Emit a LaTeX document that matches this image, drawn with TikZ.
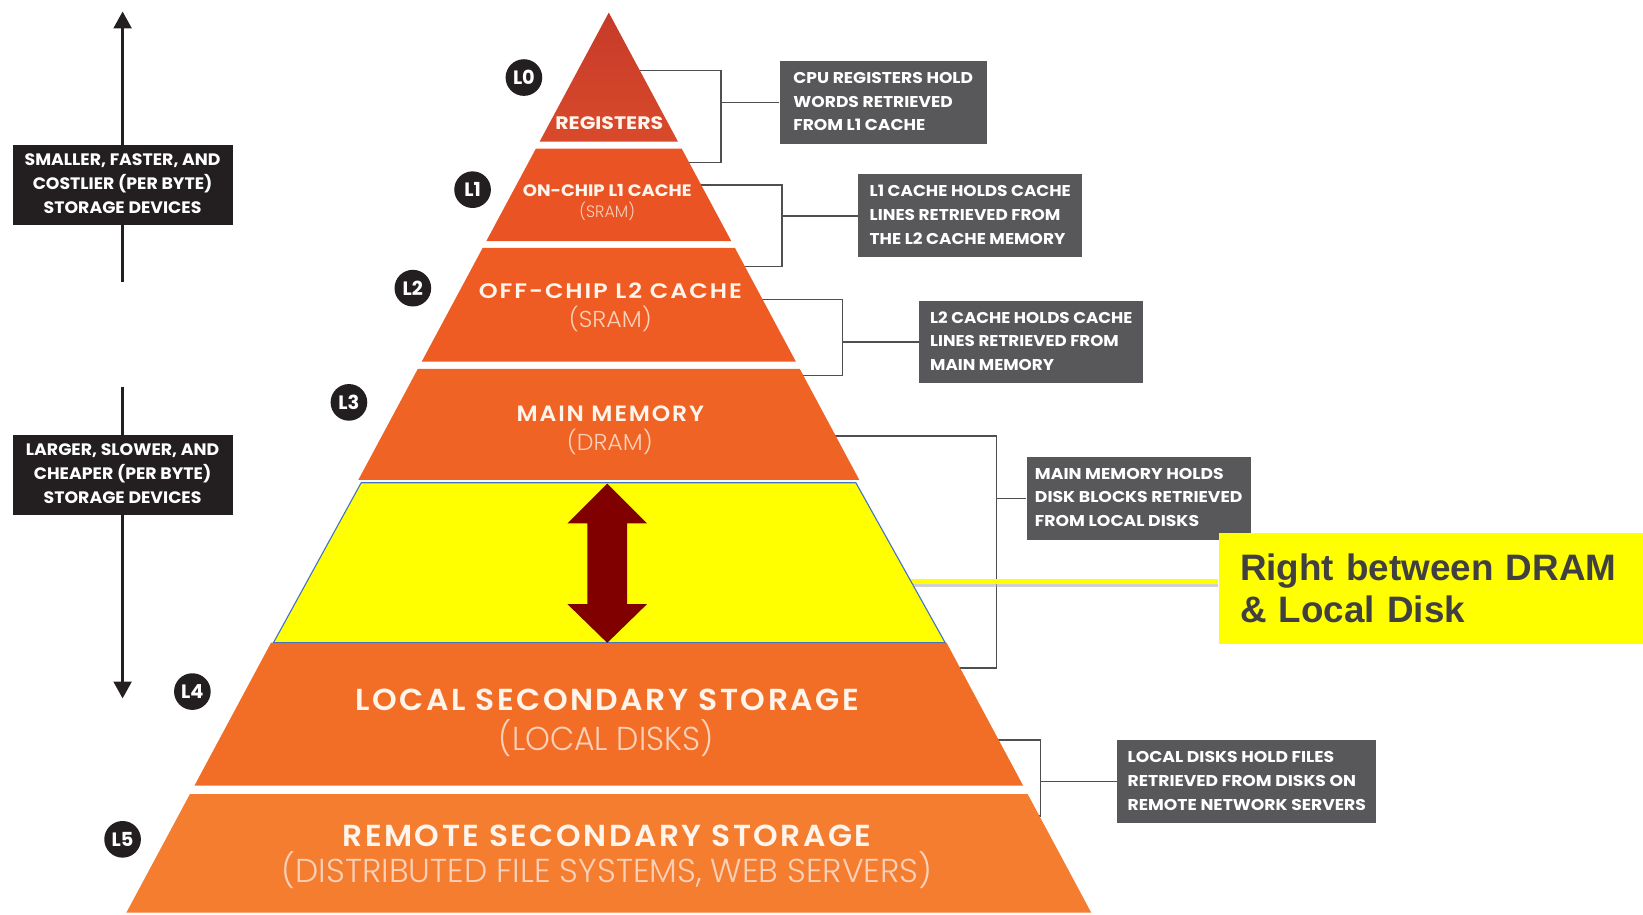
\documentclass[tikz,border=0pt]{standalone}
\usepackage{fontspec}
\usepackage{graphicx}
\setmainfont{Poppins}
\newfontfamily\plight{Poppins Light}
\newfontfamily\psemi{Poppins SemiBold}
\newfontfamily\arialf{Liberation Sans}
\usetikzlibrary{arrows.meta}

\definecolor{regtop}{HTML}{C63A29}
\definecolor{regbot}{HTML}{D94A2B}
\definecolor{lone}{HTML}{EA5424}
\definecolor{ltwo}{HTML}{EE5B23}
\definecolor{lthree}{HTML}{EF6325}
\definecolor{lfour}{HTML}{F26E27}
\definecolor{lfive}{HTML}{F47D30}
\definecolor{titlecol}{HTML}{FFF5EC}
\definecolor{subcol}{HTML}{FAD0B8}
\definecolor{notegray}{HTML}{58585A}
\definecolor{inkblack}{HTML}{231F20}
\definecolor{hiyellow}{HTML}{FFFF00}
\definecolor{hiblue}{HTML}{4472C4}
\definecolor{darkred}{HTML}{800000}
\definecolor{calltext}{HTML}{404040}
\definecolor{bracketcol}{HTML}{4F4F4F}

% stretch a label horizontally to a given width, keeping its height
\newcommand\fitw[2]{\resizebox{#1}{\height}{#2}}
% tracked capitals for the wide band titles
\newcommand\tracked[1]{{\addfontfeatures{LetterSpace=8}#1}}
% one band of the pyramid between two heights
\newcommand\tier[3]{%
  \pgfmathsetmacro\hwa{0.536*(#1-12)}%
  \pgfmathsetmacro\hwb{0.536*(#2-12)}%
  \path[#3] (581-\hwa,#1) -- (581+\hwa,#1) -- (581+\hwb,#2) -- (581-\hwb,#2) -- cycle;}

\begin{document}
\begin{tikzpicture}[x=0.02cm,y=-0.02cm,
  bracket/.style={draw=bracketcol,line width=0.7pt},
  notebox/.style={fill=notegray,text=white,inner sep=0pt,
    font=\bfseries\fontsize{8.5}{12.9}\selectfont},
  sidebox/.style={fill=inkblack,text=white,inner sep=0pt,
    font=\bfseries\fontsize{9}{12.9}\selectfont},
  lvl/.style={circle,fill=inkblack,text=white,minimum size=0.7cm,inner sep=0pt,
    font=\bfseries\fontsize{10.5}{11}\selectfont},
  tiertitle/.style={anchor=base,inner sep=0pt,text=titlecol},
  tiersub/.style={anchor=base,inner sep=0pt,text=subcol},
  sidearrow/.style={draw=inkblack,line width=1.4pt,-{Triangle[length=0.32cm,width=0.34cm]}},
]
\useasboundingbox (0,0) rectangle (1568,873);
\fill[white] (0,0) rectangle (1568,873);

% ---- note boxes on the right ----
\node[notebox,minimum width=3.95cm,minimum height=1.58cm] (n0) at (842.9,97.8)
  {\fitw{3.43cm}{\begin{tabular}{@{}l@{}}CPU REGISTERS HOLD\\WORDS RETRIEVED\\FROM L1 CACHE\end{tabular}}};
\node[notebox,minimum width=4.28cm,minimum height=1.58cm] (n1) at (926,206)
  {\fitw{3.84cm}{\begin{tabular}{@{}l@{}}L1 CACHE HOLDS CACHE\\LINES RETRIEVED FROM\\THE L2 CACHE MEMORY\end{tabular}}};
\node[notebox,minimum width=4.27cm,minimum height=1.58cm] (n2) at (984.2,326.4)
  {\fitw{3.86cm}{\begin{tabular}{@{}l@{}}L2 CACHE HOLDS CACHE\\LINES RETRIEVED FROM\\MAIN MEMORY\end{tabular}}};
\node[notebox,minimum width=4.27cm,minimum height=1.58cm] (n3) at (1086.7,475.4)
  {\fitw{3.96cm}{\begin{tabular}{@{}l@{}}MAIN MEMORY HOLDS\\DISK BLOCKS RETRIEVED\\FROM LOCAL DISKS\end{tabular}}};
\node[notebox,minimum width=4.94cm,minimum height=1.59cm] (n4) at (1189.9,746)
  {\fitw{4.55cm}{\begin{tabular}{@{}l@{}}LOCAL DISKS HOLD FILES\\RETRIEVED FROM DISKS ON\\REMOTE NETWORK SERVERS\end{tabular}}};

% ---- bracket connectors (ends hidden under the pyramid) ----
\coordinate (b0a) at (600,67.5);  \coordinate (b0v) at (688,155.3);  \coordinate (b0b) at (645,155.3);
\coordinate (b1a) at (655,176.6); \coordinate (b1v) at (746.3,254.5); \coordinate (b1b) at (700,254.5);
\coordinate (b2a) at (715,285.7); \coordinate (b2v) at (804.2,358.5); \coordinate (b2b) at (755,358.5);
\coordinate (b3a) at (785,416);   \coordinate (b3v) at (951,637.6);   \coordinate (b3b) at (905,637.6);
\coordinate (b4a) at (940,706.2); \coordinate (b4v) at (993.2,778.8); \coordinate (b4b) at (980,778.8);
\foreach \k/\n in {0/n0,1/n1,2/n2,3/n3,4/n4}{
  \draw[bracket] (b\k a) -| (b\k v) -- (b\k b);
  \draw[bracket] (\n.west) -- (\n.west -| b\k v);
}

% ---- highlight callout ----
\node[fill=hiyellow,anchor=north west,minimum width=8.11cm,minimum height=2.13cm,
  text width=7.4cm,inner xsep=0.41cm,inner ysep=0pt,align=left,text=calltext,
  font=\arialf\bfseries\fontsize{20}{23}\selectfont] (callout) at (1162.6,508)
  {Right between DRAM\\\& Local Disk};
\coordinate (hl) at (860,555);
\draw[black!30,opacity=0.6,line width=2pt] ([yshift=-2.2pt]hl) -- ([yshift=-2.2pt]hl -| callout.west);
\draw[hiyellow,line width=2.4pt] (hl) -- (hl -| callout.west);

% ---- pyramid bands ----
\tier{12}{135.2}{top color=regtop,bottom color=regbot}
\tier{141.8}{230}{fill=lone}
\tier{236.5}{345.2}{fill=ltwo}
\tier{352}{458}{fill=lthree}
\tier{613.3}{749.8}{fill=lfour}
\tier{757.8}{871}{fill=lfive}

% highlighted band with its double arrow
\path[fill=hiyellow,draw=hiblue,line width=0.6pt]
  (344.7,460.7) -- (816.8,460.7) -- (902,613.3) -- (261,613.3) -- cycle;
\fill[darkred] (579.5,461.5) -- (617.5,499.5) -- (598.5,499.5) -- (598.5,576.5)
  -- (617.5,576.5) -- (579.5,613.5) -- (541.5,576.5) -- (560.5,576.5)
  -- (560.5,499.5) -- (541.5,499.5) -- cycle;

% ---- band labels ----
\node[tiertitle,font=\bfseries\fontsize{9.8}{10}\selectfont] (t0) at (581.5,124) {\fitw{2.06cm}{REGISTERS}};
\node[tiertitle,font=\bfseries\fontsize{9}{10}\selectfont] (t1) at (579.5,187.7) {\fitw{3.22cm}{ON-CHIP L1 CACHE}};
\node[tiersub,font=\plight\fontsize{9}{10}\selectfont] (s1) at (579.5,208) {\fitw{1.06cm}{(SRAM)}};
\node[tiertitle,font=\psemi\fontsize{11.4}{12}\selectfont] (t2) at (582.5,285) {\fitw{5.02cm}{\tracked{OFF-CHIP L2 CACHE}}};
\node[tiersub,font=\plight\fontsize{12.5}{13}\selectfont] (s2) at (582.5,313) {\fitw{1.58cm}{(SRAM)}};
\node[tiertitle,font=\psemi\fontsize{12}{13}\selectfont] (t3) at (582.5,402.5) {\fitw{3.58cm}{\tracked{MAIN MEMORY}}};
\node[tiersub,font=\plight\fontsize{12.5}{13}\selectfont] (s3) at (582,430) {\fitw{1.64cm}{(DRAM)}};
\node[tiertitle,font=\psemi\fontsize{16.5}{17}\selectfont] (t4) at (579.5,677.6) {\fitw{9.62cm}{\tracked{LOCAL SECONDARY STORAGE}}};
\node[tiersub,font=\plight\fontsize{18}{18}\selectfont] (s4) at (578.5,716) {\fitw{4.10cm}{(LOCAL DISKS)}};
\node[tiertitle,font=\psemi\fontsize{16.5}{17}\selectfont] (t5) at (579.3,808) {\fitw{10.10cm}{\tracked{REMOTE SECONDARY STORAGE}}};
\node[tiersub,font=\plight\fontsize{18}{18}\selectfont] (s5) at (579.5,842.5) {\fitw{12.42cm}{(DISTRIBUTED FILE SYSTEMS, WEB SERVERS)}};

% ---- level markers ----
\node[lvl] (c0) at (500,74) {L0};
\node[lvl] (c1) at (451,181) {L1};
\node[lvl] (c2) at (394,275) {L2};
\node[lvl] (c3) at (333,384) {L3};
\node[lvl] (c4) at (183.6,660) {L4};
\node[lvl] (c5) at (117,801) {L5};

% ---- direction arrows with their captions ----
\coordinate (upfoot) at (117,268.8); \coordinate (uptip) at (117,11);
\coordinate (dnfoot) at (117,369);   \coordinate (dntip) at (117,666.5);
\draw[sidearrow] (upfoot) -- (uptip);
\draw[sidearrow] (dnfoot) -- (dntip);
\node[sidebox,minimum width=4.2cm,minimum height=1.53cm] (sa) at (117,176.5)
  {\fitw{3.74cm}{\begin{tabular}{@{}c@{}}SMALLER, FASTER, AND\\COSTLIER (PER BYTE)\\STORAGE DEVICES\end{tabular}}};
\node[sidebox,minimum width=4.2cm,minimum height=1.53cm] (sb) at (117,453.2)
  {\fitw{3.69cm}{\begin{tabular}{@{}c@{}}LARGER, SLOWER, AND\\CHEAPER (PER BYTE)\\STORAGE DEVICES\end{tabular}}};
\end{tikzpicture}
\end{document}
